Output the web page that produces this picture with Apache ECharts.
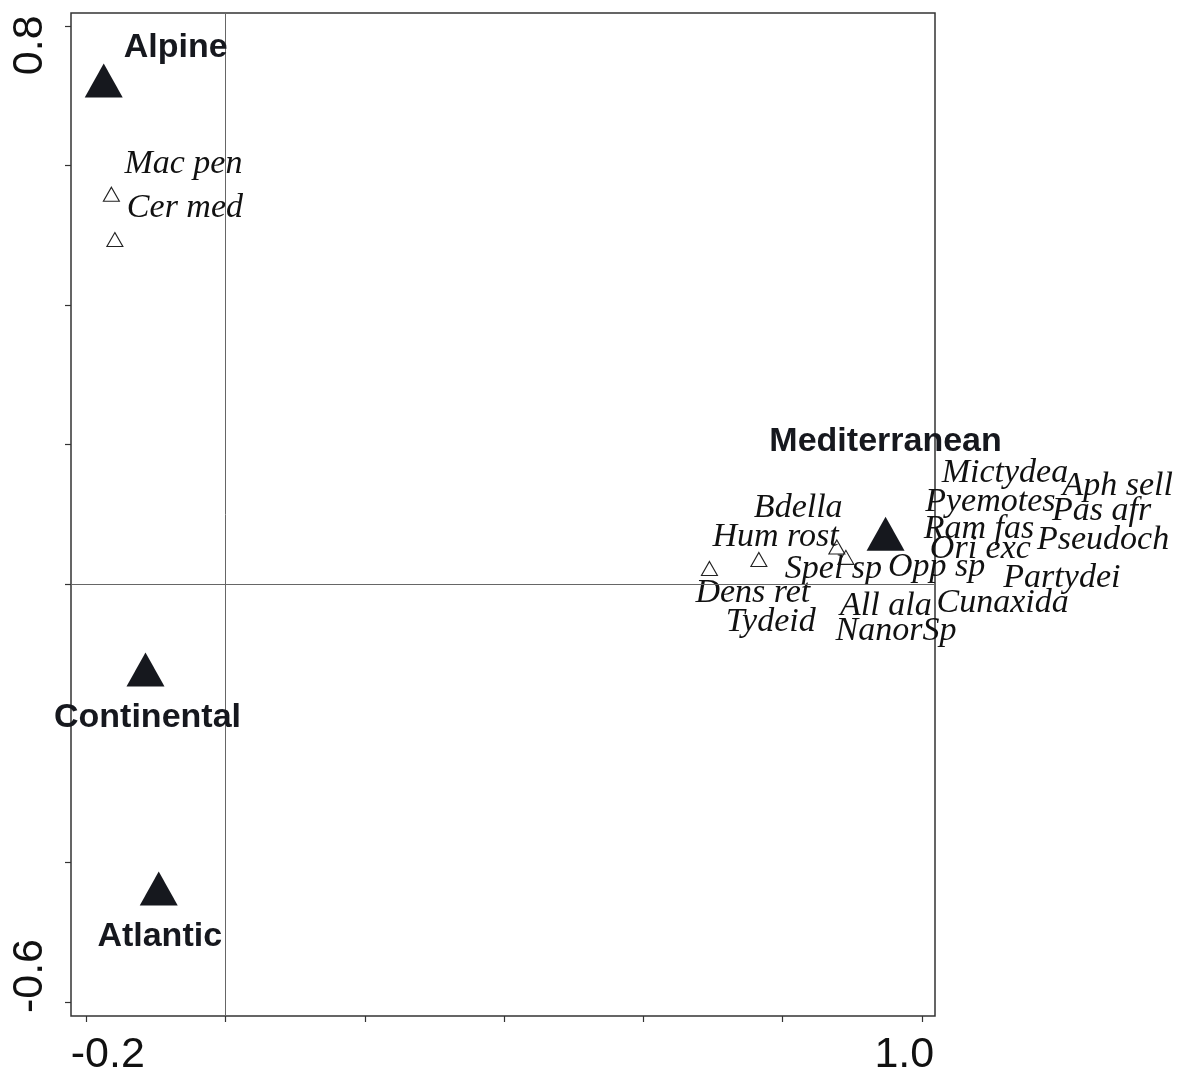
<!DOCTYPE html>
<html>
<head>
<meta charset="utf-8">
<script src="https://cdn.jsdelivr.net/npm/echarts@6/dist/echarts.min.js"></script>
<style>
  html, body { margin: 0; padding: 0; background: #fff; }
  #chart { width: 1187px; height: 1079px; }
</style>
</head>
<body>
<div id="chart"></div>
<script>
// Axis extents and ticks
const xRange = [-0.222, 1.019];
const yRange = [-0.62, 0.819];
const xTicks = [-0.2, 0, 0.2, 0.4, 0.6, 0.8, 1.0];
const yTicks = [-0.6, -0.4, -0.2, 0, 0.2, 0.4, 0.6, 0.8];
const xLabelValues = [-0.2, 1.0];
const xLabelTexts = ['-0.2', '1.0'];
const yLabelValues = [-0.6, 0.8];
const yLabelTexts = ['-0.6', '0.8'];

// Biogeographic regions (filled triangles)
const regionNames = ['Alpine', 'Continental', 'Atlantic', 'Mediterranean'];
const regionX = [-0.175, -0.115, -0.096, 0.948];
const regionY = [0.722, -0.123, -0.437, 0.072];

// Species scores (open triangles)
const speciesNames = [
  'Mac pen', 'Cer med', 'Hum rost', 'Bdella', 'Spel sp', 'Opp sp',
  'Mictydea', 'Aph sell', 'Pyemotes', 'Pas afr', 'Ram fas', 'Pseudoch',
  'Ori exc', 'Partydei', 'Cunaxida', 'All ala', 'NanorSp', 'Tydeid', 'Dens ret'
];
const speciesX = [
  -0.164, -0.159, 0.695, 0.766, 0.878, 0.891,
  0.951, 0.955, 0.946, 0.953, 0.944, 0.950,
  0.947, 0.952, 0.948, 0.943, 0.945, 0.941, 0.942
];
const speciesY = [
  0.559, 0.494, 0.022, 0.035, 0.053, 0.038,
  0.067, 0.064, 0.066, 0.061, 0.063, 0.062,
  0.060, 0.065, 0.061, 0.061, 0.060, 0.062, 0.064
];

// Label placement (pixel offsets from each symbol centre)
const regionLabelShift = [[72, -33], [2, 48], [1, 48], [0, -92]];
const speciesLabelShift = [
  [13, -30], [12, -31], [3, -31], [-5, -51], [-52, 22], [42, 10],
  [54, -64], [172, -53], [41, -36], [163, -30], [41, -11], [150, -1],
  [45, 7], [115, 40], [51, 62], [-42, 65], [-48, 89], [-155, 81], [-186, 54]
];

const INK = '#16181e';
const sans = '"Liberation Sans", Arial, sans-serif';
const serif = '"Liberation Serif", "Times New Roman", serif';

function pickLabel(values, texts, v) {
  for (let i = 0; i < values.length; i++) {
    if (Math.abs(values[i] - v) < 1e-6) return '{t' + i + '|' + texts[i] + '}';
  }
  return '';
}

const tickFont = { fontFamily: sans, fontSize: 43, color: '#111' };

const chart = echarts.init(document.getElementById('chart'), null, { renderer: 'canvas' });
chart.setOption({
  animation: false,
  backgroundColor: '#ffffff',
  grid: {
    left: 71, top: 13, width: 864, height: 1003,
    show: true, borderColor: '#333', borderWidth: 1.5, backgroundColor: 'transparent'
  },
  xAxis: {
    type: 'value', min: xRange[0], max: xRange[1],
    axisLine: { show: false, onZero: false },
    splitLine: { show: false },
    axisTick: { show: true, customValues: xTicks, length: 6, lineStyle: { color: '#333', width: 1.2 } },
    axisLabel: {
      customValues: xLabelValues, margin: 18,
      formatter: v => pickLabel(xLabelValues, xLabelTexts, v),
      rich: {
        t0: Object.assign({ padding: [0, 0, 0, 43] }, tickFont),
        t1: Object.assign({ padding: [0, 35, 0, 0] }, tickFont)
      }
    }
  },
  yAxis: {
    type: 'value', min: yRange[0], max: yRange[1],
    axisLine: { show: false, onZero: false },
    splitLine: { show: false },
    axisTick: { show: true, customValues: yTicks, length: 6, lineStyle: { color: '#333', width: 1.2 } },
    axisLabel: {
      customValues: yLabelValues, margin: 19, rotate: 90,
      formatter: v => pickLabel(yLabelValues, yLabelTexts, v),
      rich: {
        t0: Object.assign({ padding: [0, 0, 0, 52] }, tickFont),
        t1: Object.assign({ padding: [0, 38, 0, 0] }, tickFont)
      }
    }
  },
  series: [
    {
      name: 'species',
      type: 'scatter',
      clip: false,
      z: 2,
      symbol: 'triangle',
      symbolSize: [16, 14],
      itemStyle: { color: 'rgba(255,255,255,0)', borderColor: '#222', borderWidth: 1.1, opacity: 1 },
      label: {
        show: true, position: 'inside', align: 'left', verticalAlign: 'middle',
        fontFamily: serif, fontStyle: 'italic', fontSize: 34, color: '#111',
        formatter: p => p.name
      },
      emphasis: { disabled: true },
      data: speciesNames.map((n, i) => ({
        name: n, value: [speciesX[i], speciesY[i]],
        label: { offset: speciesLabelShift[i] }
      })),
      markLine: {
        silent: true, symbol: 'none', animation: false,
        label: { show: false },
        lineStyle: { color: '#666', width: 1, type: 'solid' },
        data: [{ xAxis: 0 }, { yAxis: 0 }]
      }
    },
    {
      name: 'regions',
      type: 'scatter',
      clip: false,
      z: 5,
      symbol: 'triangle',
      symbolSize: [38, 34],
      itemStyle: { color: INK, opacity: 1 },
      label: {
        show: true, position: 'inside', align: 'center', verticalAlign: 'middle',
        fontFamily: sans, fontWeight: 'bold', fontSize: 34, color: INK,
        formatter: p => p.name
      },
      emphasis: { disabled: true },
      data: regionNames.map((n, i) => ({
        name: n, value: [regionX[i], regionY[i]],
        label: { offset: regionLabelShift[i] }
      }))
    }
  ]
});
</script>
</body>
</html>
